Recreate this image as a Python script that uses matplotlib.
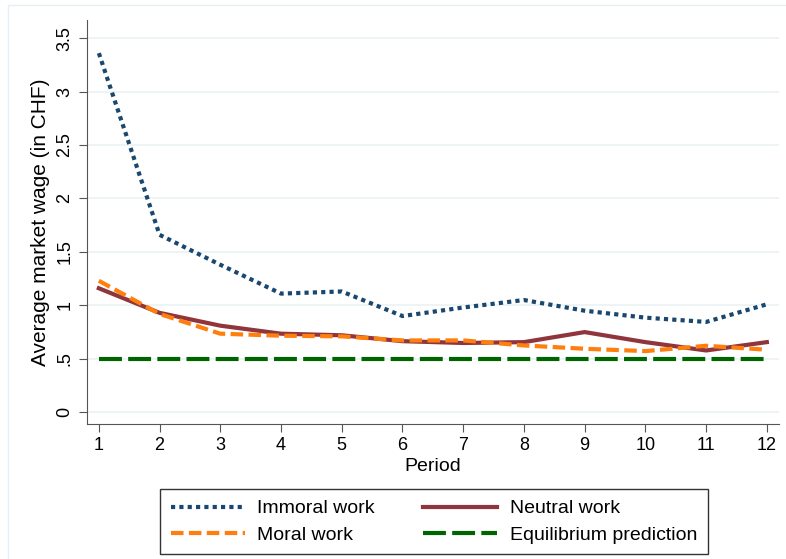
import numpy as np
import matplotlib.pyplot as plt
from matplotlib.patches import Rectangle

plt.rcParams['font.family'] = ['Liberation Sans', 'DejaVu Sans']

period = list(range(1, 13))
immoral = [3.36, 1.66, 1.38, 1.11, 1.13, 0.90, 0.98, 1.05, 0.95, 0.885, 0.845, 1.01]
neutral = [1.16, 0.93, 0.81, 0.735, 0.72, 0.665, 0.648, 0.656, 0.75, 0.656, 0.578, 0.656]
moral = [1.23, 0.92, 0.735, 0.716, 0.71, 0.672, 0.672, 0.625, 0.594, 0.572, 0.622, 0.585]
equilibrium = [0.5] * 12

fig = plt.figure(figsize=(7.86, 5.59), dpi=100)
# faint outer frame like the stata graph region
fig.patches.append(Rectangle((8 / 786, -0.1), 1.2, (559 - 5) / 559 + 0.1,
                             transform=fig.transFigure, fill=False,
                             edgecolor='#e8eff2', lw=1))
ax = fig.add_axes([86.7 / 786, (559 - 424) / 559, (779 - 86.7) / 786, (424 - 20) / 559])

l_imm, = ax.plot(period, immoral, color='#1a476f', lw=3, linestyle=(0, (1, 1)), label='Immoral work')
l_neu, = ax.plot(period, neutral, color='#90353b', lw=3, label='Neutral work')
l_mor, = ax.plot(period, moral, color='#ff7f0e', lw=3, linestyle=(0, (3, 1.3)), label='Moral work')
l_eq, = ax.plot(period, equilibrium, color='#006400', lw=3, linestyle=(0, (5.5, 1.5)),
                label='Equilibrium prediction')

ax.set_xlim(0.8, 12.2)
ax.set_ylim(-0.11, 3.67)
ax.set_xticks(period)
ax.set_yticks([0, 0.5, 1, 1.5, 2, 2.5, 3, 3.5])
ax.set_yticklabels(['0', '.5', '1', '1.5', '2', '2.5', '3', '3.5'], rotation=90, va='center')
ax.tick_params(labelsize=13, length=6, color='#555555')
ax.grid(axis='y', color='#eaf2f3', lw=1.2)
ax.set_axisbelow(True)
for s in ['top', 'right']:
    ax.spines[s].set_visible(False)
for s in ['left', 'bottom']:
    ax.spines[s].set_color('#555555')
ax.set_xlabel('Period', fontsize=14, labelpad=3)
ax.set_ylabel('Average market wage (in CHF)', fontsize=15, labelpad=5)

# matplotlib fills legend column by column
leg = fig.legend([l_imm, l_mor, l_neu, l_eq],
                 ['Immoral work', 'Moral work', 'Neutral work', 'Equilibrium prediction'],
                 ncol=2, loc='upper left', bbox_to_anchor=(160 / 786, 1 - 489 / 559),
                 bbox_transform=fig.transFigure, borderaxespad=0,
                 fontsize=14, frameon=True, fancybox=False, handlelength=3.8,
                 handletextpad=0.65, columnspacing=2.5, borderpad=0.55, labelspacing=0.45)
leg.get_frame().set_edgecolor('black')
leg.get_frame().set_linewidth(1)

fig.savefig('out.png', dpi=100)
